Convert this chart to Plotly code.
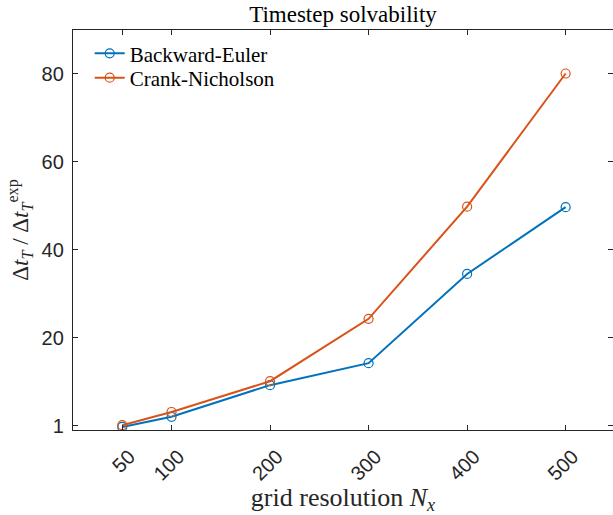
import plotly.graph_objects as go

nx = [50, 100, 200, 300, 400, 500]
backward_euler = [-0.3, 2.0, 9.2, 14.2, 34.5, 49.7]
crank_nicholson = [0.1, 3.1, 10.1, 24.3, 49.8, 80.1]
x_ticks = [50, 100, 200, 300, 400, 500]
y_tickvals = [0, 20, 40, 60, 80]
y_ticktext = ["1", "20", "40", "60", "80"]

W, H = 613, 515
L, T, B = 73.3, 30.3, 515 - 430.5
axR = 614.9
xmax = 550 * (W - L) / (axR - L)
PH = H - T - B

serif = "Liberation Serif"
sans = "Liberation Sans"
axc = "#262626"

fig = go.Figure()
fig.add_trace(go.Scatter(x=nx, y=backward_euler, mode="lines+markers", name="Backward-Euler",
                         legend="legend",
                         line=dict(color="#0072BD", width=2),
                         marker=dict(symbol="circle-open", size=9, color="#0072BD", line=dict(width=1.2))))
fig.add_trace(go.Scatter(x=nx, y=crank_nicholson, mode="lines+markers", name="Crank-Nicholson",
                         legend="legend2",
                         line=dict(color="#D95319", width=2),
                         marker=dict(symbol="circle-open", size=9, color="#D95319", line=dict(width=1.2))))

legx = (90 - L) / (W - L)
leg_common = dict(x=legx, xanchor="left", yanchor="middle", bgcolor="rgba(0,0,0,0)",
                  font=dict(family=serif, size=21, color="black"))
fig.update_layout(
    width=W, height=H,
    margin=dict(l=L, r=0, t=T, b=B, pad=0),
    plot_bgcolor="white", paper_bgcolor="white",
    title=dict(text="Timestep solvability", x=0.5, xref="paper", xanchor="center",
               y=1 - 14 / H, yanchor="middle", font=dict(family=serif, size=23, color="black")),
    legend=dict(y=(430.5 - 54) / PH, **leg_common),
    legend2=dict(y=(430.5 - 78.3) / PH, **leg_common),
    showlegend=True,
)
fig.update_xaxes(range=[0, xmax], tickvals=x_ticks, ticktext=[str(v) for v in x_ticks],
                 tickangle=-45, ticks="inside", ticklen=5, tickcolor=axc, tickwidth=1.2,
                 showline=True, linecolor=axc, linewidth=1.3, mirror="ticks",
                 showgrid=False, zeroline=False, ticklabelshift=7, ticklabelstandoff=6,
                 tickfont=dict(family=sans, size=20, color=axc),
                 title=dict(text="grid resolution <i>N<sub>x</sub></i>", standoff=3,
                            font=dict(family=serif, size=26, color=axc)))
fig.update_yaxes(range=[-1, 90], tickvals=y_tickvals, ticktext=y_ticktext,
                 ticks="inside", ticklen=5, tickcolor=axc, tickwidth=1.2,
                 showline=True, linecolor=axc, linewidth=1.3, mirror="ticks",
                 showgrid=False, zeroline=False, ticklabelstandoff=4,
                 tickfont=dict(family=sans, size=20, color=axc),
                 title=dict(text="Δ<i>t<sub>T</sub></i> / Δ<i>t<sub>T</sub></i><sup>exp</sup>", standoff=6,
                            font=dict(family=serif, size=23, color=axc)))

fig.write_html("out.html")
